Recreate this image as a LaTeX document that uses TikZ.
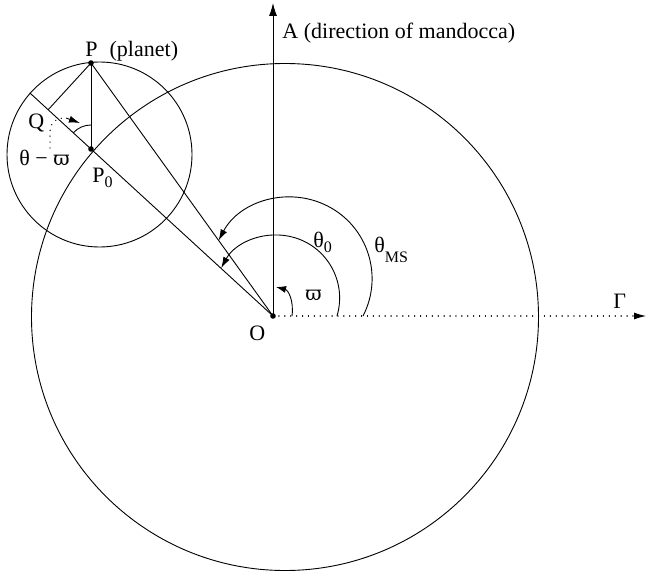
\documentclass[tikz,border=0pt]{standalone}
\usepackage{fontspec}
\setmainfont{Liberation Serif}
\newfontfamily\gr{DejaVu Serif}
\usetikzlibrary{arrows.meta,calc}
\tikzset{
  lbl/.style={font=\fontsize{22}{26}\selectfont, inner sep=0pt, anchor=base west},
  tip/.style={-{Latex[length=11pt,width=7pt]}},
  dotline/.style={line cap=round, dash pattern=on 0.1pt off 5.8pt, line width=1.3pt},
}
\newcommand{\vp}{{\gr\fontsize{20}{22}\selectfont ϖ}}
\newcommand{\sbs}[2]{\raisebox{#1}{\fontsize{16}{16}\selectfont #2}}
\begin{document}
\begin{tikzpicture}[x=1pt,y=-1pt,line width=0.9pt]
\useasboundingbox (0,0) rectangle (647,575);
% points
\coordinate (O) at (273,316);
\coordinate (P) at (91,63);
\coordinate (P0) at (91,149);
\coordinate (C) at (285,317);
\coordinate (Ce) at (99.5,154.5);
\coordinate (E) at (29.8,92.9);
\coordinate (Q) at ($(P0)!(P)!(E)$);
\coordinate (Atip) at (273,3);
\coordinate (G) at (646,316);
\coordinate (Gd) at (634,316);
% circles
\draw (C) circle[radius=253.5];
\draw (Ce) circle[radius=92.5];
% lines
\draw (O) -- (E);
\draw (O) -- (P);
\draw (P) -- (P0);
\draw (P) -- (Q);
\draw[-{Latex[length=13pt,width=8pt]}] (O) -- (Atip);
\draw[dotline] (O) -- (Gd);
\draw[-{Latex[length=12pt,width=7pt]}] (Gd) -- (G);
% angle arcs at O
\draw[tip] (337,316) arc[start angle=16.6, end angle=-151.6, radius=63];
\draw[tip] (363,316) arc[start angle=27.3, end angle=-152, radius=81.5];
\draw[-{Latex[length=10pt,width=7pt]}] (292,316) .. controls (294,300) and (288,290) .. (276,287);
% angle at P0
\draw (P0) ++(-137.5:24) arc[start angle=-137.5, end angle=-90, radius=24];
\draw[dotline] (50,148) -- (50,132) .. controls (50,123) and (56,118) .. (65,118);
\draw[-{Latex[length=11pt,width=7pt]}] (66,118) -- (80,123);
% dots
\fill (O) circle[radius=2.8];
\fill (P) circle[radius=2.8];
\fill (P0) circle[radius=2.8];
% labels
\node[lbl] (lA) at (282,38.5) {A (direction of mandocca)};
\node[lbl] (lP) at (85,57) {P\hspace{12pt}(planet)};
\node[lbl] (lQ) at (28,128.5) {Q};
\node[lbl] (lth) at (19,165) {θ − \vp};
\node[lbl] (lP0) at (92,182) {P\sbs{-5pt}{0}};
\node[lbl] (lO) at (249,340) {O};
\node[lbl] (lt0) at (313,247) {θ\sbs{-5pt}{0}};
\node[lbl] (ltm) at (374,252) {θ\sbs{-10pt}{MS}};
\node[lbl] (lvp) at (305,300) {\vp};
\node[lbl] (lG) at (613,308) {Γ};
\end{tikzpicture}
\end{document}
